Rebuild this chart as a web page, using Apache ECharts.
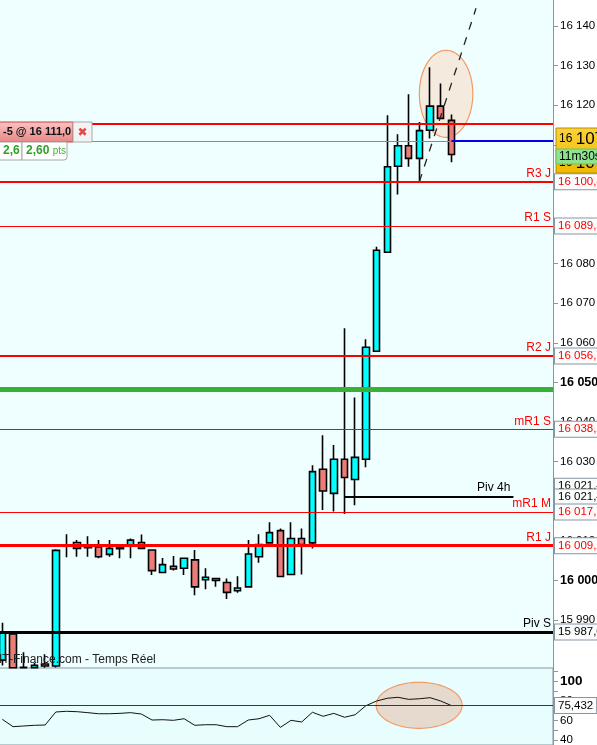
<!DOCTYPE html>
<html><head><meta charset="utf-8">
<script src="https://cdn.jsdelivr.net/npm/echarts@6/dist/echarts.min.js"></script>
<style>html,body{margin:0;padding:0;background:#fff;}#c{width:597px;height:745px;}</style>
</head><body><div id="c"></div>
<script>
// ---- data (bars cut by the panel bottom are read as ending at the visible edge) ----
const opens  = [15979.9,15986.5,15978.05,15978.0,15978.9,15978.4,16008.7,16009.6,16008.3,16008.5,16006.6,16008.0,16008.9,16009.6,16007.7,16002.0,16003.6,16003.1,16005.2,16000.2,16000.5,15999.5,15997.4,15998.4,16006.0,16009.5,16012.6,16001.5,16010.6,16009.5,16028.1,16022.0,16030.6,16025.5,16030.6,16057.9,16082.9,16104.6,16109.8,16106.6,16113.7,16119.8,16116.2];
const closes = [15987.0,15977.95,15977.95,15978.6,15978.4,16007.6,16009.0,16008.1,16008.6,16006.0,16008.1,16008.3,16010.2,16008.1,16002.5,16004.0,16002.9,16005.6,15998.4,16000.8,16000.0,15997.0,15998.1,16006.7,16009.1,16012.1,16001.0,16010.6,16009.1,16027.5,16022.6,16030.6,16026.0,16031.1,16058.9,16083.4,16104.5,16109.8,16106.6,16113.6,16119.8,16116.7,16107.6];
const lows   = [15978.5,15977.95,15977.95,15977.95,15977.95,15978.0,16005.9,16006.0,16006.0,16005.6,16006.0,16005.6,16005.6,16008.1,16001.4,16002.0,16002.5,16001.4,15996.3,15997.8,15998.4,15995.3,15996.9,15998.4,16004.5,16009.5,16001.0,16001.5,16001.5,16008.1,16017.8,16017.4,16016.8,16019.0,16028.6,16057.9,16082.9,16097.5,16104.5,16100.7,16111.6,16116.5,16105.6];
const highs  = [15989.3,15987.0,15981.9,15979.2,15981.4,16007.9,16011.7,16010.2,16011.2,16010.2,16010.2,16009.1,16010.6,16011.6,16007.7,16005.7,16006.2,16005.6,16007.7,16003.1,16000.5,16000.5,16001.1,16010.2,16011.7,16014.7,16013.1,16014.7,16013.1,16029.1,16036.7,16034.2,16063.7,16046.2,16060.9,16084.3,16117.5,16112.7,16122.8,16115.8,16129.6,16125.5,16117.7];
const rsiValues = [61.4,53.9,54.6,55.3,55.6,68.9,69.6,69.2,68.2,67.1,67.1,67.5,68.2,66.8,60.7,61.0,60.4,62.0,55.3,55.9,55.9,53.9,53.9,60.7,62.0,65.5,53.2,60.4,58.7,68.6,64.5,67.5,63.5,66.1,75.3,80.1,82.9,83.9,81.8,82.4,83.5,80.1,75.432];
const slotCount = 52;
const priceTicks = [15990,16000,16010,16020,16030,16040,16050,16060,16070,16080,16090,16100,16110,16120,16130,16140];
const boldPriceTicks = [16000,16050];
const rsiLabelTicks = [40,60,80,100];
const rsiMinorTicks = [40,50,60,70,80,90,100,110];
const levelNames  = ['R3 J','R1 S','R2 J','mR1 S','mR1 M','R1 J','Piv S'];
const levelValues = [16100.7,16089.5,16056.7,16038.2,16017.3,16008.8,15987.0];
const levelTexts  = ['16 100,8','16 089,5','16 056,7','16 038,2','16 017,7','16 009,2','15 987,0'];
const topLevel = 16115.4;
const greenLevel = 16048.3;
const orderLevel = 16111.0;
const piv4hValue = 16021.1;
const piv4hText = '16 021,4';
const piv4hSpan = [32, 47.8];
const hiddenLevel = 16023.8;
const hiddenText = '16 021,4';
const lastIndex = 42;
const rsiLast = 75.432;
const rsiLastText = '75,432';
const trendLine = [[39, 16100.7], [44.3, 16144.5]];
const hiliteMain = [41.5, 16122.9, 2.5, 11.0];
const hiliteRsi = [38.98, 75.7, 4.02, 23.5];

// ---- styles ----
const FONT = "'Liberation Sans', Arial, sans-serif";
const levelStyle = {
  'R3 J':  {color:'#ff0000', width:2, labelColor:'#ff0000', textColor:'#ff0000'},
  'R1 S':  {color:'#ff0000', width:1, labelColor:'#ff0000', textColor:'#ff0000'},
  'R2 J':  {color:'#ff0000', width:2, labelColor:'#ff0000', textColor:'#ff0000'},
  'mR1 S': {color:'#ff0000', width:1, labelColor:'#ff0000', textColor:'#ff0000'},
  'mR1 M': {color:'#ff0000', width:1, labelColor:'#ff0000', textColor:'#ff0000'},
  'R1 J':  {color:'#ff0000', width:3, labelColor:'#ff0000', textColor:'#ff0000'},
  'Piv S': {color:'#000000', width:3, labelColor:'#000000', textColor:'#000000'}
};
const boxLabel = (text, color) => ({
  show:true, position:'end', distance:2, formatter:text, color:color,
  fontFamily:FONT, fontSize:11.5, backgroundColor:'#fbfdfd', borderColor:'#8796a2',
  borderWidth:1, padding:[2,3,1,3]
});
const HIDDEN_LINE = {color:'rgba(0,0,0,0)', width:0, type:'solid'};

const categories = Array.from({length: slotCount}, (_, i) => String(i + 1));
const candleData = opens.map((o, i) => [o, closes[i], lows[i], highs[i]]);
const rsiData = rsiValues.map((v, i) => [i, v]);

const ml = [];
ml.push({yAxis: hiddenLevel, lineStyle:HIDDEN_LINE, label: boxLabel(hiddenText, '#000')});
ml.push({yAxis: topLevel, lineStyle:{color:'#ff0000', width:2, type:'solid'}, label:{show:false}});
ml.push({yAxis: greenLevel, lineStyle:{color:'#36b236', width:5, type:'solid'}, label:{show:false}});
ml.push({yAxis: orderLevel, lineStyle:{color:'#8a8a8a', width:1, type:'solid'}, label:{show:false}});
ml.push([{coord:[lastIndex, orderLevel], lineStyle:{color:'#0000ee', width:2, type:'solid'}, label:{show:false}}, {coord:[slotCount - 0.5, orderLevel]}]);
ml.push([{coord:[piv4hSpan[0], piv4hValue], lineStyle:{color:'#000', width:2, type:'solid'},
  label:{show:true, position:'insideEndTop', formatter:'Piv 4h', color:'#000', fontFamily:FONT, fontSize:12, distance:3}},
  {coord:[piv4hSpan[1], piv4hValue]}]);
ml.push({yAxis: piv4hValue, lineStyle:HIDDEN_LINE, label: boxLabel(piv4hText, '#000')});
levelNames.forEach((n, i) => {
  const st = levelStyle[n];
  ml.push({yAxis: levelValues[i], lineStyle:{color:st.color, width:st.width, type:'solid'},
    label:{show:true, position:'insideEndTop', formatter:n, color:st.labelColor, fontFamily:FONT, fontSize:12, distance:2}});
  ml.push({yAxis: levelValues[i], lineStyle:HIDDEN_LINE, label: boxLabel(levelTexts[i], st.textColor)});
});

function ellipseRenderer(fill, stroke) {
  return function (params, api) {
    const c = api.coord([api.value(0), api.value(1)]);
    const s = api.size([api.value(2), api.value(3)]);
    const pts = [];
    for (let k = 0; k < 90; k++) {
      const a = k / 90 * Math.PI * 2;
      pts.push([c[0] + s[0] * Math.cos(a), c[1] + s[1] * Math.sin(a)]);
    }
    return {type:'polygon', shape:{points:pts}, style:{fill:fill, stroke:stroke, lineWidth:1.2}};
  };
}

const chart = echarts.init(document.getElementById('c'), null, {renderer:'canvas'});
const fmtPrice = v => { const s = String(Math.round(v)); return s.slice(0,2) + ' ' + s.slice(2); };

chart.setOption({
  animation:false,
  backgroundColor:'#ffffff',
  textStyle:{fontFamily:FONT},
  grid:[
    {left:-3, right:44, top:0, height:668, show:true, backgroundColor:'#effefe', borderWidth:0, containLabel:false, outerBoundsMode:'none'},
    {left:-3, right:44, top:668, height:77, show:true, backgroundColor:'#e8fefe', borderColor:'#8796a2', borderWidth:1, containLabel:false, outerBoundsMode:'none'}
  ],
  xAxis:[
    {type:'category', gridIndex:0, data:categories, boundaryGap:true, show:false},
    {type:'value', gridIndex:0, min:-0.5, max:slotCount - 0.5, show:false, axisLine:{onZero:false}},
    {type:'value', gridIndex:1, min:-0.5, max:slotCount - 0.5, show:false, axisLine:{onZero:false}}
  ],
  yAxis:[
    {type:'value', gridIndex:0, position:'right', min:15977.9, max:16146.6, splitLine:{show:false},
      axisLine:{show:true, onZero:false, lineStyle:{color:'#8796a2', width:1}},
      axisTick:{show:true, length:5, customValues:priceTicks, lineStyle:{color:'#8796a2'}},
      axisLabel:{customValues:priceTicks, margin:7, color:'#000', fontSize:11.5, fontFamily:FONT,
        formatter: v => boldPriceTicks.includes(Math.round(v)) ? '{b|' + fmtPrice(v) + '}' : fmtPrice(v),
        rich:{b:{fontWeight:'bold', fontSize:12.5, color:'#000', fontFamily:FONT}}}},
    {type:'value', gridIndex:1, position:'right', min:35.2, max:113.8, splitLine:{show:false},
      axisLine:{show:true, onZero:false, lineStyle:{color:'#8796a2', width:1}},
      axisTick:{show:true, length:5, customValues:rsiMinorTicks, lineStyle:{color:'#8796a2'}},
      axisLabel:{customValues:rsiLabelTicks, margin:7, color:'#000', fontSize:11.5, fontFamily:FONT,
        formatter: v => v === 100 ? '{b|100}' : String(v),
        rich:{b:{fontWeight:'bold', fontSize:13.5, color:'#000', fontFamily:FONT}}}}
  ],
  series:[
    {type:'custom', xAxisIndex:1, yAxisIndex:0, z:1, silent:true,
      renderItem: ellipseRenderer('rgba(252,214,190,0.5)', '#f39a66'),
      data:[hiliteMain], clip:false},
    {type:'candlestick', xAxisIndex:0, yAxisIndex:0, z:2, barWidth:7, silent:true, clip:true,
      data:candleData,
      itemStyle:{color:'#00ffff', color0:'#ec7c78', borderColor:'#000', borderColor0:'#000', borderColorDoji:'#000', borderWidth:1.6}},
    {type:'line', xAxisIndex:1, yAxisIndex:0, z:3, silent:true, symbol:'none',
      data:trendLine, lineStyle:{color:'#222', width:1.3, type:[8,8]},
      markLine:{silent:true, symbol:['none','none'], animation:false, data:ml, emphasis:{disabled:true}}},
    {type:'custom', xAxisIndex:2, yAxisIndex:1, z:1, silent:true,
      renderItem: ellipseRenderer('rgba(228,205,188,0.75)', '#f39a66'),
      data:[hiliteRsi], clip:false},
    {type:'line', xAxisIndex:2, yAxisIndex:1, z:3, silent:true, symbol:'none',
      data:rsiData, lineStyle:{color:'#111', width:1},
      markLine:{silent:true, symbol:['none','none'], animation:false, emphasis:{disabled:true},
        data:[{yAxis:rsiLast, lineStyle:{color:'#2323d8', width:1, type:'solid'}, label: boxLabel(rsiLastText, '#000')}]}}
  ],
  graphic:[
    {type:'text', z:50, left:-1, top:654, style:{text:'IT-Finance.com - Temps Réel', fill:'#222', font:"12px 'Liberation Sans', Arial, sans-serif"}},
    {type:'rect', z:60, shape:{x:-3, y:122, width:76, height:20},
      style:{fill:new echarts.graphic.LinearGradient(0,0,0,1,[{offset:0,color:'#f9c4c4'},{offset:1,color:'#ea8585'}]), stroke:'#c84444', lineWidth:1}},
    {type:'text', z:61, x:3, y:132, style:{text:'-5 @ 16 111,0', fill:'#111', font:"bold 11px 'Liberation Sans', Arial, sans-serif", verticalAlign:'middle'}},
    {type:'rect', z:60, shape:{x:73, y:122, width:19, height:20}, style:{fill:'#f3f3f3', stroke:'#a8a8a8', lineWidth:1}},
    {type:'text', z:61, x:82.5, y:132.5, style:{text:'✖', fill:'#e04848', font:"bold 12px 'DejaVu Sans', sans-serif", align:'center', verticalAlign:'middle'}},
    {type:'rect', z:60, shape:{x:-3, y:142, width:25, height:18}, style:{fill:'#ffffff', stroke:'#a8a8a8', lineWidth:1}},
    {type:'text', z:61, x:3, y:151, style:{text:'2,6', fill:'#2fa12a', font:"bold 12px 'Liberation Sans', Arial, sans-serif", verticalAlign:'middle'}},
    {type:'rect', z:60, shape:{x:22, y:142, width:45, height:18, r:[0,0,3,0]}, style:{fill:'#ffffff', stroke:'#a8a8a8', lineWidth:1}},
    {type:'text', z:61, x:26, y:151, style:{text:'{a|2,60} {b|pts}', verticalAlign:'middle',
      rich:{a:{fill:'#2fa12a', font:"bold 12px 'Liberation Sans', Arial, sans-serif"}, b:{fill:'#3fb33a', font:"10px 'Liberation Sans', Arial, sans-serif"}}}},
    {type:'rect', z:60, shape:{x:556, y:128, width:45, height:45},
      style:{fill:new echarts.graphic.LinearGradient(0,0,0,1,[{offset:0,color:'#fbd23a'},{offset:1,color:'#f0b800'}]), stroke:'#b88c00', lineWidth:1}},
    {type:'text', z:61, x:559, y:139, style:{text:'{s|16 }{l|107}', verticalAlign:'middle',
      rich:{s:{fill:'#000', font:"12px 'Liberation Sans', Arial, sans-serif"}, l:{fill:'#000', font:"17px 'Liberation Sans', Arial, sans-serif"}}}},
    {type:'text', z:61, x:559, y:163, style:{text:'{s|16 }{l|107}', verticalAlign:'middle',
      rich:{s:{fill:'#000', font:"12px 'Liberation Sans', Arial, sans-serif"}, l:{fill:'#000', font:"17px 'Liberation Sans', Arial, sans-serif"}}}},
    {type:'rect', z:62, shape:{x:556, y:149, width:45, height:15}, style:{fill:'#8fe38f', stroke:'#6cc06c', lineWidth:1}},
    {type:'text', z:63, x:559, y:156.5, style:{text:'11m30s', fill:'#000', font:"12px 'Liberation Sans', Arial, sans-serif", verticalAlign:'middle'}}
  ]
});
</script></body></html>
